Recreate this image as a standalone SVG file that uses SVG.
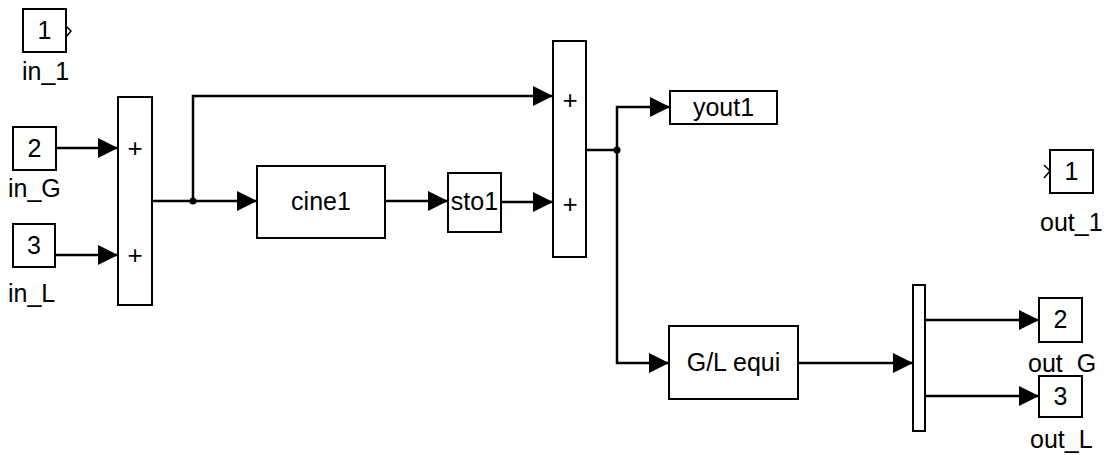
<svg xmlns="http://www.w3.org/2000/svg" width="1107" height="455" viewBox="0 0 1107 455">
<style>
.blk{fill:#fff;stroke:#000;stroke-width:2}
.t{font-family:"Liberation Sans",Arial,sans-serif;font-size:25px;fill:#000}
.c{text-anchor:middle}
.p{font-family:"Liberation Sans",Arial,sans-serif;font-size:26px;fill:#000;text-anchor:middle}
.w{fill:none;stroke:#000;stroke-width:2.5}
.ch{fill:none;stroke:#000;stroke-width:1.5}
</style>
<defs>
<marker id="ah" markerUnits="userSpaceOnUse" markerWidth="20" markerHeight="20" refX="20" refY="10" orient="auto">
<path d="M0,0 L20,10 L0,20 z" fill="#000"/>
</marker>
</defs>
<g id="in_1"><rect class="blk" x="23" y="9" width="43" height="43"/><text class="t c" x="44.5" y="39">1</text><path class="ch" d="M66,26 L71,31 L66,37"/><text class="t" x="22" y="80">in_1</text></g>
<g id="in_G"><rect class="blk" x="13" y="127" width="43" height="43"/><text class="t c" x="34.5" y="157">2</text><text class="t" x="8" y="197">in_G</text></g>
<g id="in_L"><rect class="blk" x="13" y="224" width="42" height="43"/><text class="t c" x="34" y="254">3</text><text class="t" x="8" y="302">in_L</text></g>
<g id="sum1"><rect class="blk" x="118" y="97" width="34" height="208"/><text class="p" x="135" y="157">+</text><text class="p" x="135" y="264">+</text></g>
<g id="cine1"><rect class="blk" x="257" y="166" width="128" height="72"/><text class="t c" x="321" y="210">cine1</text></g>
<g id="sto1"><rect class="blk" x="448" y="173" width="53" height="59"/><text class="t c" x="474.5" y="210">sto1</text></g>
<g id="sum2"><rect class="blk" x="553" y="41" width="33" height="216"/><text class="p" x="570" y="109">+</text><text class="p" x="570" y="213">+</text></g>
<g id="yout1"><rect class="blk" x="670" y="91" width="107" height="33"/><text class="t c" x="723.5" y="116">yout1</text></g>
<g id="out_1"><rect class="blk" x="1050" y="150" width="43" height="43"/><text class="t c" x="1071.5" y="180">1</text><path class="ch" d="M1044,165 L1050,171 L1044,178"/><text class="t" x="1040" y="231">out_1</text></g>
<g id="gl_equi"><rect class="blk" x="669" y="326" width="129" height="73"/><text class="t c" x="733.5" y="371">G/L equi</text></g>
<g id="demux"><rect class="blk" x="913" y="285" width="12" height="146"/></g>
<g id="out_G"><rect class="blk" x="1039" y="298" width="43" height="44"/><text class="t c" x="1060.5" y="328">2</text><text class="t" x="1028" y="372">out_G</text></g>
<g id="out_L"><rect class="blk" x="1039" y="376" width="43" height="41"/><text class="t c" x="1060.5" y="405">3</text><text class="t" x="1030" y="448">out_L</text></g>
<g id="connectors">
<path class="w" d="M56,148 L118,148" marker-end="url(#ah)"/>
<path class="w" d="M55,255 L118,255" marker-end="url(#ah)"/>
<path class="w" d="M152,201 L257,201" marker-end="url(#ah)"/>
<path class="w" d="M193,201 L193,96 L553,96" marker-end="url(#ah)"/>
<path class="w" d="M385,201 L448,201" marker-end="url(#ah)"/>
<path class="w" d="M501,202 L553,202" marker-end="url(#ah)"/>
<path class="w" d="M586,150 L617,150"/>
<path class="w" d="M617,150 L617,107 L670,107" marker-end="url(#ah)"/>
<path class="w" d="M617,150 L617,363 L669,363" marker-end="url(#ah)"/>
<path class="w" d="M798,363 L913,363" marker-end="url(#ah)"/>
<path class="w" d="M925,320 L1039,320" marker-end="url(#ah)"/>
<path class="w" d="M925,396 L1039,396" marker-end="url(#ah)"/>
<circle cx="193" cy="201" r="3.5" fill="#000"/>
<circle cx="617" cy="150" r="3.5" fill="#000"/>
</g>
</svg>
